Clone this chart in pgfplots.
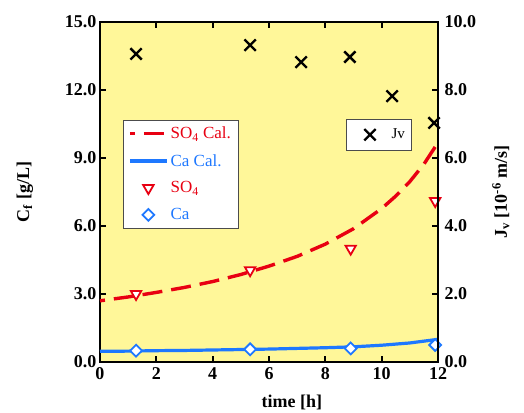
\documentclass[border=0pt]{standalone}
\usepackage{fontspec}
\setmainfont{Liberation Serif}
\usepackage{pgfplots}
\pgfplotsset{compat=1.18}

\definecolor{bgyellow}{RGB}{255,247,153}
\definecolor{so4red}{RGB}{232,0,18}
\definecolor{cablue}{RGB}{30,120,255}

\pgfplotsset{
  common/.style={
    scale only axis, width=338pt, height=340pt,
    xmin=0, xmax=12,
    tick align=inside, major tick length=6pt,
    every tick/.style={black, line width=2pt},
    axis line style={line width=2.5pt},
    ticklabel style={font=\fontsize{18}{20}\selectfont\bfseries},
    label style={font=\fontsize{18}{20}\selectfont\bfseries},
    /pgf/number format/assume math mode=true,
    legend image code/.code={\path (0cm,0cm) (1.3cm,0cm);
      \draw[mark repeat=2,mark phase=2,##1]
      plot coordinates {(0cm,0cm) (0.65cm,0cm) (1.3cm,0cm)};},
  },
}

\begin{document}
\begin{tikzpicture}
% concentrations (left axis)
\begin{axis}[common,
  ymin=0, ymax=15,
  xtick={0,2,...,12}, ytick={0,3,...,15},
  xtick pos=both, xticklabel pos=bottom, ytick pos=left,
  axis background/.style={fill=bgyellow},
  yticklabel style={/pgf/number format/fixed, /pgf/number format/fixed zerofill, /pgf/number format/precision=1},
  xticklabel style={yshift=-2pt},
  xlabel={time [h]},
  xlabel style={at={(axis description cs:0.568,-0.135)}, anchor=base},
  ylabel={C\textsubscript{f} [g/L]},
  ylabel style={at={(axis description cs:-0.222,0.5)}, anchor=center},
  legend style={at={(0.068,0.712)}, anchor=north west, draw=black!70,
    fill=white, font=\fontsize{17}{19}\selectfont,
    row sep=10pt, inner sep=5pt},
  legend cell align=left,
]
\coordinate (O) at (rel axis cs:0,0);
\addplot[so4red, line width=3.4pt, dash pattern=on 20pt off 9pt, dash phase=15pt, mark=none]
  coordinates {(0,2.70) (1,2.87) (2,3.07) (3,3.29) (4,3.55) (5,3.86) (6,4.23)
    (7,4.66) (8,5.20) (9,5.88) (10,6.77) (10.5,7.32) (11,7.96) (11.5,8.73) (12,9.68)};
\addlegendentry{\textcolor{so4red}{SO\textsubscript{4} Cal.}}
\addplot[cablue, line width=3.2pt, mark=none]
  coordinates {(0,0.47) (1,0.48) (2,0.50) (3,0.51) (4,0.53) (5,0.55) (6,0.57)
    (7,0.60) (8,0.63) (9,0.67) (10,0.74) (11,0.84) (12,1.00)};
\addlegendentry{\textcolor{cablue}{Ca Cal.}}
\addplot[only marks, so4red, mark=triangle*, mark size=6pt, line width=1.8pt,
  mark options={rotate=180, fill=white}]
  coordinates {(1.28,3.00) (5.33,4.05) (8.90,5.00) (11.90,7.10)};
\addlegendentry{\textcolor{so4red}{SO\textsubscript{4}}}
\addplot[only marks, cablue, mark=square*, mark size=4.2pt, line width=1.8pt,
  mark options={rotate=45, fill=white}]
  coordinates {(1.28,0.50) (5.33,0.56) (8.90,0.60) (11.90,0.75)};
\addlegendentry{\textcolor{cablue}{Ca}}
\end{axis}
% permeate flux (right axis)
\begin{axis}[common,
  ymin=0, ymax=10,
  hide x axis, axis y line*=right,
  ytick={0,2,...,10},
  yticklabel style={xshift=3pt, /pgf/number format/fixed, /pgf/number format/fixed zerofill, /pgf/number format/precision=1},
  ylabel={J\textsubscript{v} [10\textsuperscript{-6} m/s]},
  ylabel style={at={(axis description cs:1.186,0.5)}, anchor=center},
  legend style={at={(0.728,0.715)}, anchor=north west, draw=black!70,
    fill=white, font=\fontsize{15}{17}\selectfont, inner xsep=4pt, inner ysep=8pt},
]
\addplot[only marks, black, mark=x, mark size=8pt, line width=2.4pt]
  coordinates {(1.28,9.06) (5.33,9.32) (7.14,8.82) (8.87,8.97) (10.37,7.82) (11.86,7.03)};
\addlegendentry{Jv}
\end{axis}
\pgfresetboundingbox
\path[use as bounding box] ([xshift=-100pt,yshift=-50pt]O) rectangle ++(524pt,412pt);
\end{tikzpicture}
\end{document}
